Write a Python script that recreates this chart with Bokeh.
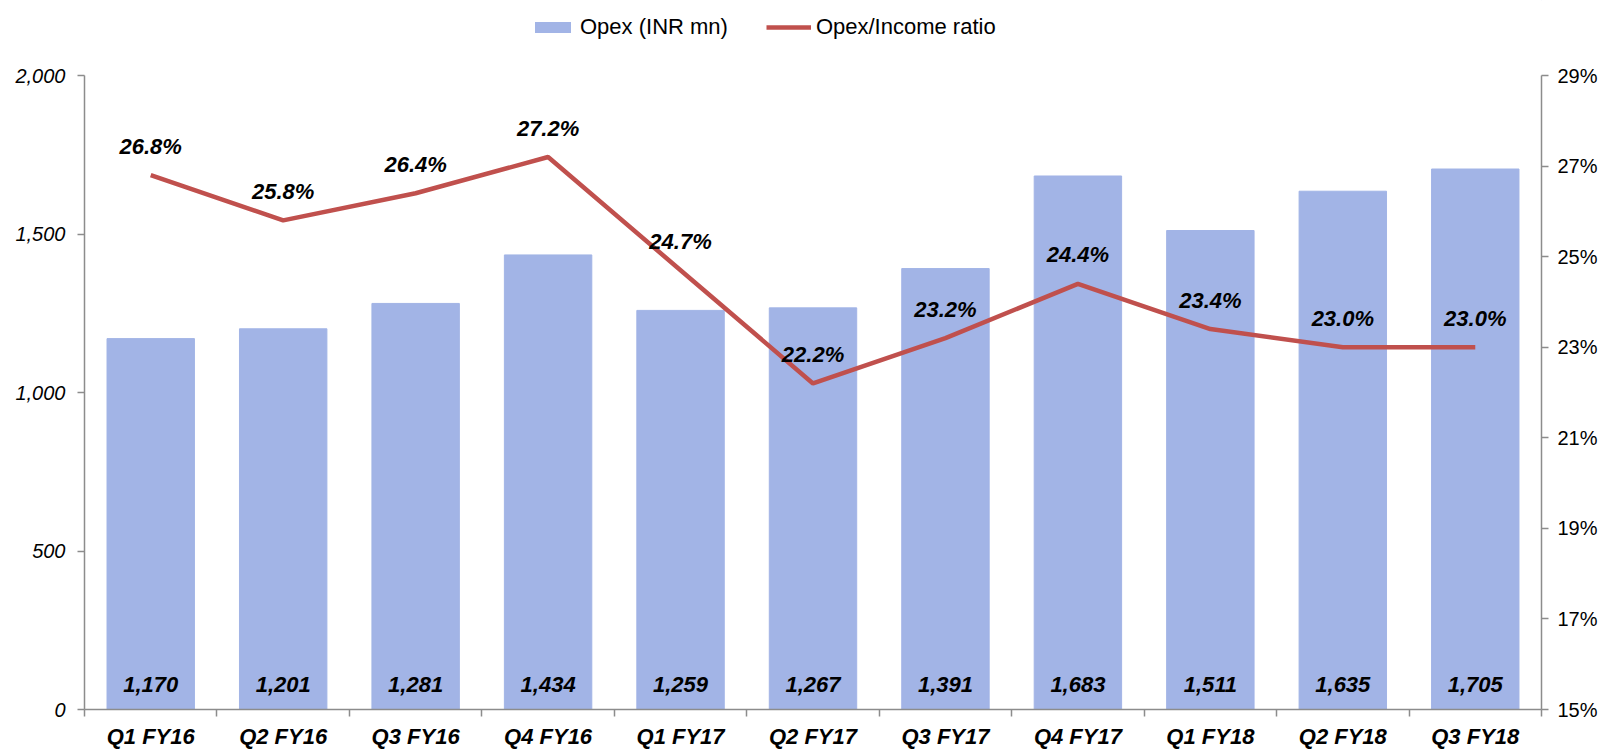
from bokeh.plotting import figure
from bokeh.layouts import column
from bokeh.models import (Range1d, LinearAxis, FixedTicker, NumeralTickFormatter,
                          PrintfTickFormatter, Legend, LegendItem, ColumnDataSource)
from bokeh.core.properties import value
from bokeh.embed import file_html
from bokeh.resources import INLINE

categories = ["Q1 FY16", "Q2 FY16", "Q3 FY16", "Q4 FY16", "Q1 FY17", "Q2 FY17",
              "Q3 FY17", "Q4 FY17", "Q1 FY18", "Q2 FY18", "Q3 FY18"]
opex = [1170, 1201, 1281, 1434, 1259, 1267, 1391, 1683, 1511, 1635, 1705]
ratio = [26.8, 25.8, 26.4, 27.2, 24.7, 22.2, 23.2, 24.4, 23.4, 23.0, 23.0]
left_ticks = [0, 500, 1000, 1500, 2000]
right_ticks = [15, 17, 19, 21, 23, 25, 27, 29]
series_names = ["Opex (INR mn)", "Opex/Income ratio"]

FONT = "Liberation Sans"
BAR = "#A2B4E6"
RED = "#C0504D"
AXIS = "#8C8C8C"

xpos = [i + 0.5 for i in range(len(categories))]
src = ColumnDataSource(dict(
    x=xpos, opex=opex, ratio=ratio, zero=[0] * len(opex),
    opex_lbl=[f"{v:,}" for v in opex],
    ratio_lbl=[f"{v:.1f}%" for v in ratio],
))

# ---- legend strip (separate small figure above the chart) ----
lg = figure(width=1604, height=50, output_backend="svg", toolbar_location=None,
            x_range=Range1d(0, 1), y_range=Range1d(0, 1),
            min_border_left=0, min_border_right=0, min_border_top=0,
            min_border_bottom=0)
lg.axis.visible = False
lg.xgrid.visible = False
lg.ygrid.visible = False
lg.outline_line_color = None
# legend proxies: single points placed far outside the strip's visible range
lg_bar = lg.vbar(x=[50], top=[60], bottom=[55], width=1, fill_color=BAR,
                 line_color=None)
lg_line = lg.line(x=[50, 51], y=[60, 60], line_color=RED, line_width=4.5)
legend = Legend(items=[LegendItem(label=series_names[0], renderers=[lg_bar], index=0),
                       LegendItem(label=series_names[1], renderers=[lg_line], index=0)],
                orientation="horizontal", location=(446, 10),
                glyph_width=45, glyph_height=14, label_height=24,
                label_standoff=5, spacing=38, padding=0, margin=0,
                border_line_color=None, background_fill_alpha=0,
                label_text_font=FONT, label_text_font_size="22px",
                label_text_color="black")
lg.add_layout(legend, "center")

# ---- main chart ----
p = figure(width=1604, height=701, output_backend="svg", toolbar_location=None,
           x_range=Range1d(0, len(categories)), y_range=Range1d(0, 2000),
           min_border_left=84, min_border_right=63, min_border_top=25,
           min_border_bottom=40)
p.outline_line_color = None
p.xgrid.visible = False
p.ygrid.visible = False
p.extra_y_ranges = {"ratio": Range1d(15, 29)}

p.vbar(x="x", top="opex", width=0.66, source=src, fill_color=BAR, line_color=BAR)
p.line(x="x", y="ratio", source=src, y_range_name="ratio", line_color=RED,
       line_width=4.5)

p.text(x="x", y="zero", text="opex_lbl", source=src, y_offset=-25,
       text_align="center", text_baseline="middle", text_font=value(FONT),
       text_font_size="22px", text_font_style="bold italic", text_color="black")
p.text(x="x", y="ratio", text="ratio_lbl", source=src, y_range_name="ratio",
       y_offset=-29, text_align="center", text_baseline="middle",
       text_font=value(FONT), text_font_size="22px",
       text_font_style="bold italic", text_color="black")

# x axis
xa = p.xaxis[0]
xa.ticker = FixedTicker(ticks=xpos, minor_ticks=list(range(len(categories) + 1)))
xa.major_label_overrides = {x: c for x, c in zip(xpos, categories)}
xa.major_tick_line_color = None
xa.major_tick_out = 0
xa.major_tick_in = 0
xa.minor_tick_line_color = AXIS
xa.minor_tick_line_width = 1.5
xa.minor_tick_out = 7
xa.minor_tick_in = 0
xa.axis_line_color = AXIS
xa.axis_line_width = 1.5
xa.major_label_standoff = 7
xa.major_label_text_font = FONT
xa.major_label_text_font_size = "22px"
xa.major_label_text_font_style = "bold italic"
xa.major_label_text_color = "black"

# left axis
ya = p.yaxis[0]
ya.ticker = FixedTicker(ticks=left_ticks)
ya.formatter = NumeralTickFormatter(format="0,0")
ya.minor_tick_line_color = None
ya.major_tick_line_color = AXIS
ya.major_tick_line_width = 1.5
ya.major_tick_out = 7
ya.major_tick_in = 0
ya.axis_line_color = AXIS
ya.axis_line_width = 1.5
ya.major_label_standoff = 12
ya.major_label_text_font = FONT
ya.major_label_text_font_size = "20px"
ya.major_label_text_font_style = "italic"
ya.major_label_text_color = "black"

# right axis
ra = LinearAxis(y_range_name="ratio", ticker=FixedTicker(ticks=right_ticks),
                formatter=PrintfTickFormatter(format="%d%%"))
ra.minor_tick_line_color = None
ra.major_tick_line_color = AXIS
ra.major_tick_line_width = 1.5
ra.major_tick_out = 7
ra.major_tick_in = 0
ra.axis_line_color = AXIS
ra.axis_line_width = 1.5
ra.major_label_standoff = 9
ra.major_label_text_font = FONT
ra.major_label_text_font_size = "20px"
ra.major_label_text_color = "black"
p.add_layout(ra, "right")

layout = column(lg, p, spacing=0)
open("out.html", "w").write(file_html(layout, INLINE))
